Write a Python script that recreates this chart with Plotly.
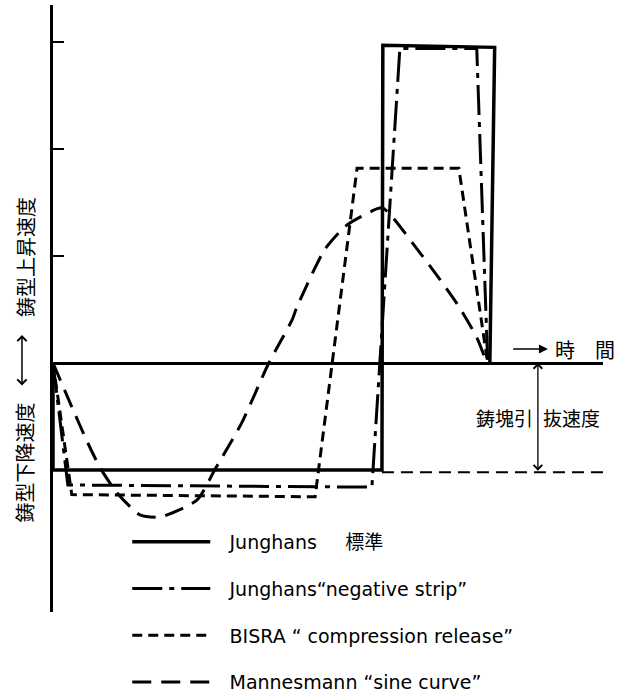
import plotly.graph_objects as go

# time in % of one oscillation cycle, velocity in units of casting (withdrawal) speed
junghans_t = [0, 0, 75.3, 75.5, 101.1, 100]
junghans_v = [0, -1.0, -1.0, 2.97, 2.95, 0]

negstrip_t = [0, 3.4, 73.0, 79.4, 97.0, 99.5]
negstrip_v = [0, -1.14, -1.16, 2.94, 2.94, 0]

bisra_t = [0, 4.3, 60.0, 69.6, 92.9, 99.5]
bisra_v = [0, -1.23, -1.25, 1.82, 1.82, 0]

sine_t = [0, 4.3, 8.0, 10.8, 14.6, 19.9, 24.5, 33.0, 37.0, 43.2, 49.4, 54.7, 55.8,
          62.2, 67.3, 74.1, 75.5, 77.8, 84.0, 88.6, 92.4, 97.0, 99.3]
sine_v = [0, -0.41, -0.75, -0.98, -1.21, -1.42, -1.44, -1.28, -1.0, -0.56, 0, 0.40, 0.52,
          1.06, 1.29, 1.44, 1.45, 1.36, 1.03, 0.78, 0.56, 0.24, 0]

withdraw_t = [75.3, 125.9]
withdraw_v = [-1.02, -1.02]

tick_vals = [1, 2, 3]

pad = "\u2002\u2005"
names = [pad + "Junghans\u2002\u3000標準",
         pad + "Junghans\u201cnegative strip\u201d",
         pad + "BISRA \u201c compression release\u201d",
         pad + "Mannesmann \u201csine curve\u201d"]

fig = go.Figure()
fig.add_trace(go.Scatter(x=withdraw_t, y=withdraw_v, mode="lines", showlegend=False,
                         line=dict(color="black", width=2, dash="12px,7px")))
fig.add_trace(go.Scatter(x=junghans_t, y=junghans_v, mode="lines", name=names[0], legendgroup="a",
                         line=dict(color="black", width=3.5)))
fig.add_trace(go.Scatter(x=negstrip_t, y=negstrip_v, mode="lines", name=names[1], legendgroup="b",
                         line=dict(color="black", width=3, dash="30px,7px,5px,7px")))
fig.add_trace(go.Scatter(x=bisra_t, y=bisra_v, mode="lines", name=names[2], legendgroup="c",
                         line=dict(color="black", width=3, dash="10px,6px")))
fig.add_trace(go.Scatter(x=sine_t, y=sine_v, mode="lines", name=names[3], legendgroup="d",
                         line=dict(color="black", width=3, dash="19px,10px", shape="spline", smoothing=0.6)))

jp = "Noto Sans CJK JP"
ann = []
# time arrow and label
ann.append(dict(x=113.3, y=0.13, xref="x", yref="y", ax=105, ay=0.13, axref="x", ayref="y",
                text="", showarrow=True, arrowhead=2, arrowsize=1.2, arrowwidth=1.5, arrowcolor="black"))
ann.append(dict(x=114.4, y=0.13, xref="x", yref="y", text="時\u3000間", showarrow=False,
                xanchor="left", yanchor="middle", font=dict(family=jp, size=20, color="black")))
# withdrawal-speed double arrow
ann.append(dict(x=111, y=0, xref="x", yref="y", ax=111, ay=-1.02, axref="x", ayref="y",
                text="", showarrow=True, arrowside="end+start", arrowhead=4, arrowsize=1.3,
                arrowwidth=1.3, arrowcolor="black"))
ann.append(dict(x=110.3, y=-0.51, xref="x", yref="y", text="鋳塊引", showarrow=False,
                xanchor="right", yanchor="middle", font=dict(family=jp, size=19, color="black")))
ann.append(dict(x=111.7, y=-0.51, xref="x", yref="y", text="抜速度", showarrow=False,
                xanchor="left", yanchor="middle", font=dict(family=jp, size=19, color="black")))
# left labels
ann.append(dict(x=-0.051, y=0.99, xref="paper", yref="y", text="鋳型上昇速度", showarrow=False,
                textangle=-90, xanchor="center", yanchor="middle", font=dict(family=jp, size=20, color="black")))
ann.append(dict(x=-0.051, y=-0.93, xref="paper", yref="y", text="鋳型下降速度", showarrow=False,
                textangle=-90, xanchor="center", yanchor="middle", font=dict(family=jp, size=20, color="black")))
ann.append(dict(x=-0.0564, y=0.262, xref="paper", yref="y", ax=0, ay=52, axref="pixel", ayref="pixel",
                text="", showarrow=True, arrowside="end+start", arrowhead=4, arrowsize=1.2,
                arrowwidth=1.5, arrowcolor="black"))

fig.update_layout(
    width=624, height=693,
    margin=dict(l=53, r=21, t=5, b=81, autoexpand=False),
    paper_bgcolor="white", plot_bgcolor="white",
    xaxis=dict(range=[0, 125.9], showgrid=False, zeroline=False, showline=False,
               showticklabels=False, ticks=""),
    yaxis=dict(range=[-2.327, 3.346], showgrid=False, zeroline=True, zerolinecolor="black",
               zerolinewidth=2.5, showline=True, linecolor="black", linewidth=3,
               tickvals=tick_vals, ticks="inside", ticklen=11, tickwidth=2, tickcolor="black",
               showticklabels=False),
    showlegend=True,
    legend=dict(x=0.135, y=0.1466, xanchor="left", yanchor="top", bgcolor="rgba(0,0,0,0)",
                font=dict(family="DejaVu Sans, " + jp, size=19, color="black"),
                itemwidth=78, tracegroupgap=19, traceorder="grouped"),
    annotations=ann,
)

fig.write_html("out.html")
